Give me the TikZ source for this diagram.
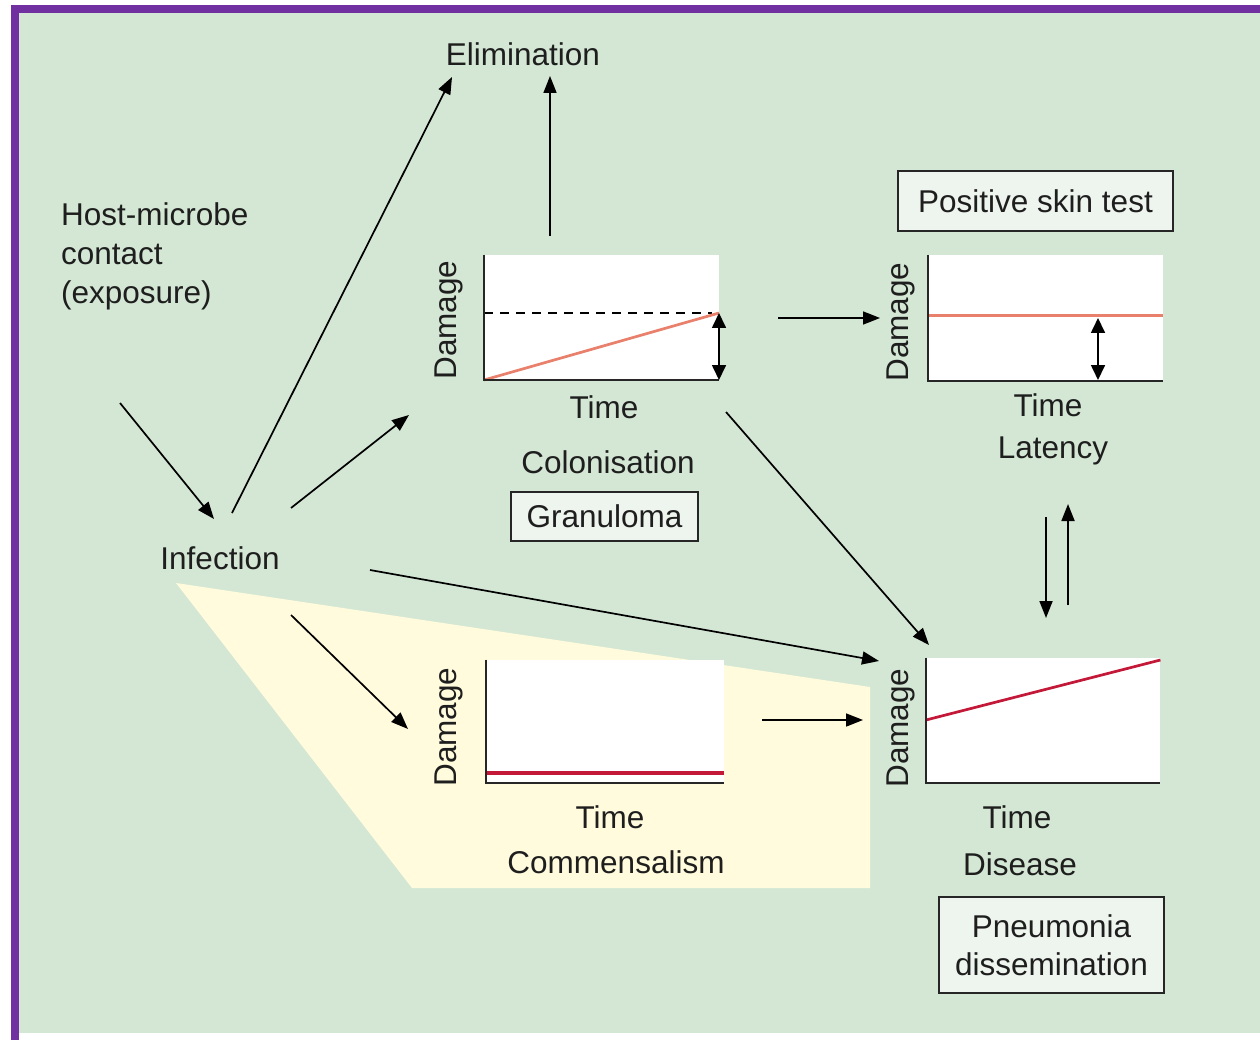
\documentclass[tikz,border=0pt]{standalone}
\usepackage{fontspec}
\setmainfont{Liberation Sans}
\usetikzlibrary{arrows.meta}
\definecolor{bggreen}{HTML}{D3E7D4}
\definecolor{frame}{HTML}{7030A0}
\definecolor{paleyel}{HTML}{FFFBDC}
\definecolor{boxfill}{HTML}{EEF4EE}
\definecolor{salmon}{HTML}{E8806C}
\definecolor{crimson}{HTML}{C41838}
\definecolor{txt}{HTML}{1E1E1E}
\begin{document}
\begin{tikzpicture}[x=1pt,y=-1pt,
  every node/.style={text=txt, font=\fontsize{31.5}{38}\selectfont},
  lbl/.style={inner sep=0pt},
  chartbg/.style={fill=white, draw=none, inner sep=0pt, anchor=south west},
  axis/.style={line width=2pt, draw=black!85},
  arr/.style={line width=1.7pt, -{Triangle[length=17pt,width=13pt]}},
  darr/.style={line width=1.7pt, {Triangle[length=15pt,width=14pt]}-{Triangle[length=15pt,width=14pt]}},
  labbox/.style={draw=black!85, line width=1.6pt, fill=boxfill, inner sep=0pt, align=center},
  dmg/.style={rotate=90, inner sep=0pt}]
\useasboundingbox (0,0) rectangle (1260,1040);
% frame and background
\fill[white] (0,0) rectangle (1260,1040);
\fill[bggreen] (19,13) rectangle (1260,1033);
\fill[frame] (11,5) rectangle (1260,13);
\fill[frame] (11,5) rectangle (19,1040);
% yellow region
\fill[paleyel] (176,583) -- (870,687) -- (870,888) -- (412,888) -- cycle;

% ---------- charts ----------
% colonisation
\node[chartbg, minimum width=235pt, minimum height=125pt] (colc) at (484,380) {};
\draw[dashed, line width=1.5pt, dash pattern=on 9pt off 7pt] (colc.west |- 0,313) -- (712,313);
\draw[salmon, line width=2.7pt] (colc.south west) -- (719,313);
\draw[axis] (colc.north west) -- (colc.south west) -- (colc.south east);
\coordinate (colt) at (719,313);
\coordinate (colb) at (719,380);
\draw[darr] (colt) -- (colb);
\node[dmg] (coldmg) at (449,320) {Damage};
\node[lbl] (coltime) at (604,407) {Time};
\node[lbl] (colname) at (608,462) {Colonisation};
\node[labbox, minimum width=187pt, minimum height=49pt] (gran) at (604.5,516.5) {Granuloma};

% latency
\node[chartbg, minimum width=235pt, minimum height=126pt] (latc) at (928,381) {};
\draw[salmon, line width=3pt] (latc.west |- 0,316) -- (latc.east |- 0,316);
\draw[axis] (latc.north west) -- (latc.south west) -- (latc.south east);
\coordinate (latt) at (1098,318);
\coordinate (latb) at (1098,380);
\draw[darr] (latt) -- (latb);
\node[dmg] (latdmg) at (901,322) {Damage};
\node[lbl] (lattime) at (1048,405) {Time};
\node[lbl] (latname) at (1053,451) {Latency};
\node[labbox, minimum width=275pt, minimum height=60pt] (skin) at (1035.5,201) {Positive skin test};

% commensalism
\node[chartbg, minimum width=238pt, minimum height=123pt] (comc) at (486,783) {};
\draw[crimson, line width=4pt] (comc.west |- 0,773) -- (comc.east |- 0,773);
\draw[axis] (comc.north west) -- (comc.south west) -- (comc.south east);
\node[dmg] (comdmg) at (449,727) {Damage};
\node[lbl] (comtime) at (610,817) {Time};
\node[lbl] (comname) at (616,862) {Commensalism};

% disease
\node[chartbg, minimum width=234pt, minimum height=125pt] (disc) at (926,783) {};
\draw[crimson, line width=2.7pt] (disc.west |- 0,720) -- (disc.east |- 0,660);
\draw[axis] (disc.north west) -- (disc.south west) -- (disc.south east);
\node[dmg] (disdmg) at (901,728) {Damage};
\node[lbl] (distime) at (1017,817) {Time};
\node[lbl] (disname) at (1020,864) {Disease};
\node[labbox, minimum width=225pt, minimum height=96pt] (pneu) at (1051.5,945) {Pneumonia\\dissemination};

% ---------- text nodes ----------
\node[lbl] (elim) at (523,54) {Elimination};
\node[lbl, anchor=west, align=left, font=\fontsize{31.5}{39}\selectfont] (host) at (61,256) {Host-microbe\\contact\\(exposure)};
\node[lbl] (inf) at (220,558) {Infection};

% ---------- connectors ----------
\coordinate (hostS) at (120,403);
\coordinate (infN) at (214,519);
\draw[arr] (hostS) -- (infN);
\coordinate (infA) at (232,513);
\coordinate (elimA) at (452,77);
\draw[arr] (infA) -- (elimA);
\coordinate (infB) at (291,508);
\coordinate (colIn) at (409,415);
\draw[arr] (infB) -- (colIn);
\coordinate (infC) at (370,570);
\coordinate (disIn) at (879,661);
\draw[arr] (infC) -- (disIn);
\coordinate (infD) at (291,615);
\coordinate (comIn) at (408,729);
\draw[arr] (infD) -- (comIn);
\coordinate (colUp) at (550,236);
\coordinate (elimB) at (550,76);
\draw[arr] (colUp) -- (elimB);
\coordinate (colR) at (778,318);
\coordinate (latIn) at (880,318);
\draw[arr] (colR) -- (latIn);
\coordinate (colD) at (726,412);
\coordinate (disIn2) at (929,645);
\draw[arr] (colD) -- (disIn2);
\coordinate (comR) at (762,720);
\coordinate (disIn3) at (863,720);
\draw[arr] (comR) -- (disIn3);
\coordinate (latD1) at (1046,517);
\coordinate (disU1) at (1046,618);
\draw[arr] (latD1) -- (disU1);
\coordinate (disU2) at (1068,605);
\coordinate (latD2) at (1068,504);
\draw[arr] (disU2) -- (latD2);
\end{tikzpicture}
\end{document}
